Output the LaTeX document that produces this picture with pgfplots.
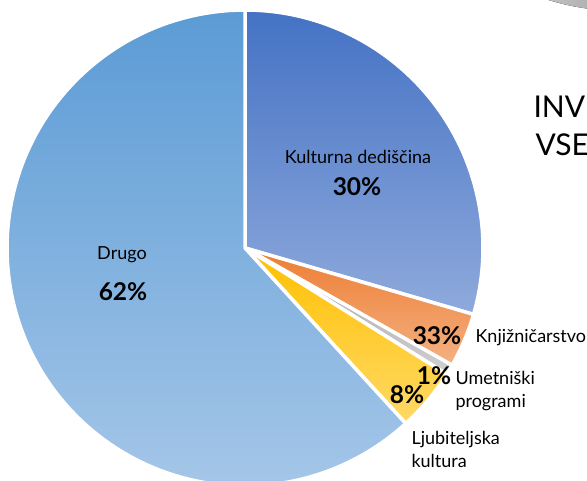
\documentclass[border=0pt]{standalone}
\usepackage{pgfplots}
\pgfplotsset{compat=1.18}
\usepackage{fontspec}
\setmainfont{Lato}

\definecolor{kulTop}{HTML}{4472C4}
\definecolor{kulBot}{HTML}{8FAADC}
\definecolor{druTop}{HTML}{5B9BD5}
\definecolor{druBot}{HTML}{A4C6E8}
\definecolor{orTop}{HTML}{ED7D31}
\definecolor{orBot}{HTML}{F4B183}
\definecolor{yeTop}{HTML}{FFC000}
\definecolor{yeBot}{HTML}{FFD966}
\definecolor{grTop}{HTML}{A5A5A5}
\definecolor{grBot}{HTML}{D0D0D0}
\definecolor{txt}{HTML}{1A1A1A}

% slice shares in percent (as drawn)
\def\pKul{29.5}
\def\pKnj{3.7}
\def\pUme{0.7}
\def\pLju{4.3}
\def\pDru{61.8}

\pgfmathsetmacro{\aA}{90}
\pgfmathsetmacro{\aB}{\aA-\pKul*3.6}
\pgfmathsetmacro{\aC}{\aB-\pKnj*3.6}
\pgfmathsetmacro{\aD}{\aC-\pUme*3.6}
\pgfmathsetmacro{\aE}{\aD-\pLju*3.6}
\pgfmathsetmacro{\aF}{\aE-\pDru*3.6}

\newcommand{\slice}[4]{%
  \addplot[draw=white, line width=3.5pt, line join=round,
    top color=#3, bottom color=#4, domain=#2:#1, samples=120]
    ({245+238*cos(x)},{233+238*sin(x)}) -- (axis cs:245,233) -- cycle;
}

\begin{document}
\begin{tikzpicture}
\begin{axis}[
  width=587pt, height=481pt, scale only axis,
  xmin=0, xmax=587, ymin=0, ymax=481,
  hide axis, clip=true,
  every node/.style={text=txt},
]
% grey shape cut by the top right corner
\fill[left color=white, right color=black!70] (axis cs:622,719) circle[radius=249];

\slice{\aA}{\aB}{kulTop}{kulBot}
\slice{\aB}{\aC}{orTop}{orBot}
\slice{\aC}{\aD}{grTop}{grBot}
\slice{\aD}{\aE}{yeTop}{yeBot}
\slice{\aE}{\aF}{druTop}{druBot}

\node[font=\fontsize{18}{22}\selectfont] at (axis cs:358,324) {Kulturna dediščina};
\node[font=\fontsize{24.5}{28}\selectfont\bfseries] at (axis cs:357,294) {30\%};
\node[font=\fontsize{18}{22}\selectfont] at (axis cs:122,226) {Drugo};
\node[font=\fontsize{24.5}{28}\selectfont\bfseries] at (axis cs:123,189) {62\%};
\node[font=\fontsize{24.5}{28}\selectfont\bfseries] at (axis cs:437,145) {33\%};
\node[font=\fontsize{18}{22}\selectfont, anchor=west] at (axis cs:472,143) {Knjižničarstvo};
\node[font=\fontsize{24.5}{28}\selectfont\bfseries] at (axis cs:434,105) {1\%};
\node[font=\fontsize{18}{23}\selectfont, anchor=west, align=left] at (axis cs:452,90) {Umetniški\\programi};
\node[font=\fontsize{24.5}{28}\selectfont\bfseries] at (axis cs:407,86) {8\%};
\node[font=\fontsize{18}{23}\selectfont, anchor=west, align=left] at (axis cs:408,32) {Ljubiteljska\\kultura};
\node[font=\fontsize{30}{33}\selectfont, anchor=west] at (axis cs:530,374) {INVESTICIJE};
\node[font=\fontsize{30}{33}\selectfont, anchor=west] at (axis cs:532,336) {VSEBINE};
\end{axis}
\pgfresetboundingbox
\path[use as bounding box] (current axis.south west) rectangle (current axis.north east);
\end{tikzpicture}
\end{document}
